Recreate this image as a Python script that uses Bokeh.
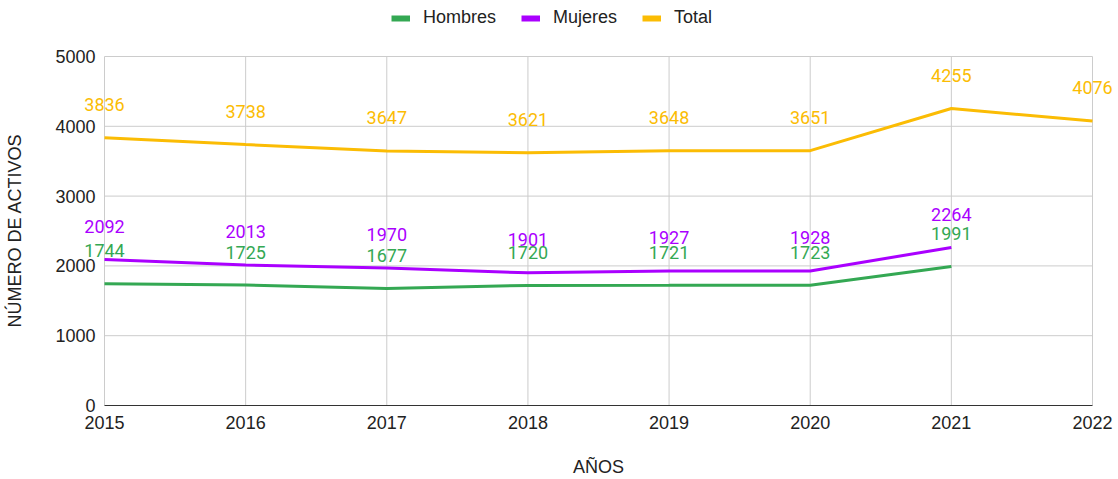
from bokeh.plotting import figure
from bokeh.layouts import column
from bokeh.models import ColumnDataSource, Range1d, Legend, LegendItem, FixedTicker
from bokeh.core.properties import value
from bokeh.embed import file_html
from bokeh.resources import INLINE

years = [2015, 2016, 2017, 2018, 2019, 2020, 2021, 2022]
hombres = [1744, 1725, 1677, 1720, 1721, 1723, 1991, None]
mujeres = [2092, 2013, 1970, 1901, 1927, 1928, 2264, None]
total = [3836, 3738, 3647, 3621, 3648, 3651, 4255, 4076]
series_names = ["Hombres", "Mujeres", "Total"]
series_colors = ["#34a853", "#aa00ff", "#fbbc04"]
y_ticks = [0, 1000, 2000, 3000, 4000, 5000]

AX_FONT = "Liberation Sans"
LBL_FONT = "Roboto"
TXT = "#222222"
W = 1116

# 1 px margins so that edge grid lines are not clipped
PX_PER_YEAR = 988 / 7.0
PX_PER_UNIT = 349 / 5000.0

p = figure(frame_width=990, frame_height=350,
           min_border_left=103, min_border_top=15, min_border_right=W - 103 - 990, min_border_bottom=74,
           x_range=Range1d(years[0] - 1 / PX_PER_YEAR, years[-1] + 1 / PX_PER_YEAR),
           y_range=Range1d(y_ticks[0], y_ticks[-1] + 1 / PX_PER_UNIT),
           output_backend="svg", toolbar_location=None)
p.outline_line_color = None
p.background_fill_color = "white"
p.xgrid.visible = False
p.ygrid.visible = False

# grid lines limited to the data area
p.segment(x0=years, y0=[y_ticks[0]] * len(years), x1=years, y1=[y_ticks[-1]] * len(years),
          line_color="#cccccc", line_width=1)
p.segment(x0=[years[0]] * (len(y_ticks) - 1), y0=y_ticks[1:], x1=[years[-1]] * (len(y_ticks) - 1),
          y1=y_ticks[1:], line_color="#cccccc", line_width=1)

p.xaxis.ticker = FixedTicker(ticks=years)
p.yaxis.ticker = FixedTicker(ticks=y_ticks)
for ax in (p.xaxis, p.yaxis):
    ax.major_tick_line_color = None
    ax.minor_tick_line_color = None
    ax.major_tick_out = 0
    ax.major_tick_in = 0
    ax.major_label_text_font = AX_FONT
    ax.major_label_text_font_size = "18px"
    ax.major_label_text_color = TXT
    ax.axis_label_text_font = AX_FONT
    ax.axis_label_text_font_size = "18px"
    ax.axis_label_text_color = TXT
    ax.axis_label_text_font_style = "normal"
p.yaxis.axis_line_color = None
p.yaxis.bounds = (y_ticks[0], y_ticks[-1])
p.yaxis.major_label_standoff = 8
p.yaxis.axis_label = "NÚMERO DE ACTIVOS"
p.yaxis.axis_label_standoff = 27
p.xaxis.axis_line_color = "#333333"
p.xaxis.axis_line_width = 1
p.xaxis.bounds = (years[0], years[-1])
p.xaxis.major_label_standoff = 10
p.xaxis.axis_label = "AÑOS"
p.xaxis.axis_label_standoff = 25

# legend strip above the chart
top = figure(width=W, height=40, min_border=0, x_axis_type=None, y_axis_type=None,
             x_range=Range1d(0, 1), y_range=Range1d(0, 1),
             output_backend="svg", toolbar_location=None)
top.outline_line_color = None
top.xgrid.visible = False
top.ygrid.visible = False

legend_items = []
for name, vals, color in zip(series_names, [hombres, mujeres, total], series_colors):
    xs = [x for x, v in zip(years, vals) if v is not None]
    ys = [v for v in vals if v is not None]
    src = ColumnDataSource(dict(x=xs, y=ys, label=[str(v) for v in ys]))
    p.line("x", "y", source=src, line_color=color, line_width=3)
    p.text("x", "y", text="label", source=src, text_color=color,
           text_font=value(LBL_FONT), text_font_size="18px",
           text_align="center", text_baseline="middle", y_offset=-33, level="overlay")
    key = top.line([float("nan")], [float("nan")], line_color=color, line_width=6)
    legend_items.append(LegendItem(label=name, renderers=[key]))

legend = Legend(items=legend_items, orientation="horizontal", location=(288, 12),
                border_line_color=None, background_fill_alpha=0,
                label_text_font=AX_FONT, label_text_font_size="18px", label_text_color=TXT,
                glyph_width=19, glyph_height=18, label_standoff=13, spacing=25,
                padding=0, margin=0)
top.add_layout(legend, "center")

layout = column(top, p, spacing=0)
open("out.html", "w").write(file_html(layout, INLINE))
